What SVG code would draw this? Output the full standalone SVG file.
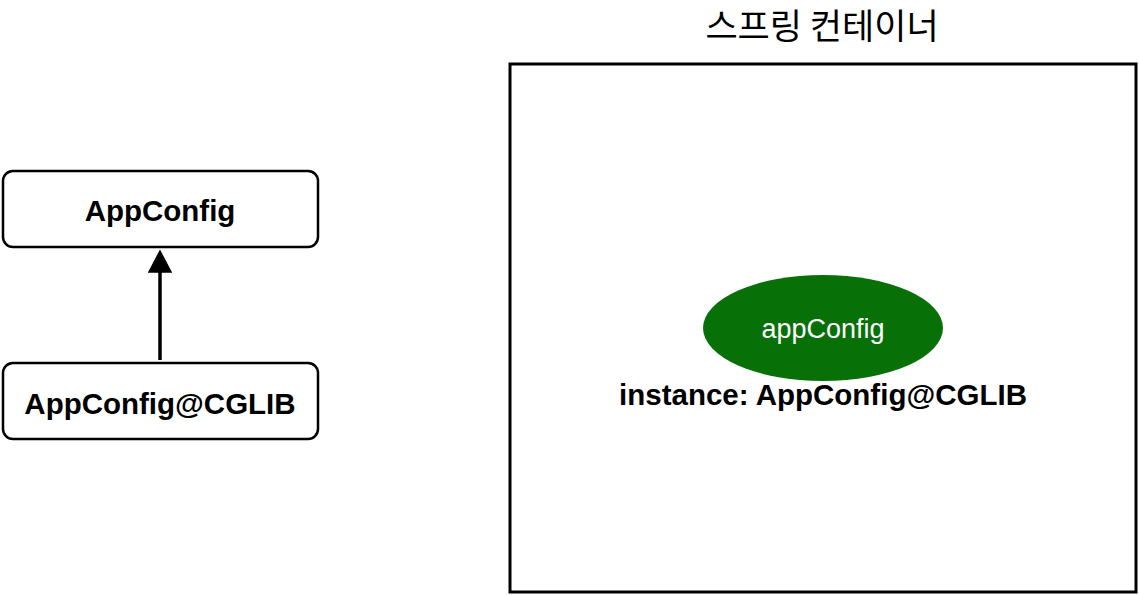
<svg xmlns="http://www.w3.org/2000/svg" width="1139" height="596" viewBox="0 0 1139 596">
<style>
.box{fill:#fff;stroke:#000;stroke-width:2.5}
.lbl{font-family:"Liberation Sans",Arial,sans-serif;font-weight:bold;font-size:29.5px;fill:#000;text-anchor:middle}
.title{font-family:"Noto Sans CJK KR","Noto Sans",sans-serif;font-size:35px;fill:#000;text-anchor:middle}
.bean{font-family:"Liberation Sans",Arial,sans-serif;font-size:27px;fill:#fff;text-anchor:middle}
</style>
<rect width="1139" height="596" fill="#fff"/>
<g id="container">
<rect x="510" y="64" width="626" height="528" fill="none" stroke="#000" stroke-width="3"/>
<text class="title" x="822" y="39">스프링 컨테이너</text>
</g>
<g id="appConfigBean">
<ellipse cx="823" cy="328" rx="120" ry="53" fill="#077007"/>
<text class="bean" x="823" y="338">appConfig</text>
<text class="lbl" x="823" y="405">instance: AppConfig@CGLIB</text>
</g>
<g id="AppConfig">
<rect class="box" x="3" y="171" width="315" height="76" rx="10"/>
<text class="lbl" x="160" y="221">AppConfig</text>
</g>
<g id="AppConfigCGLIB">
<rect class="box" x="3" y="363" width="315" height="76" rx="10"/>
<text class="lbl" x="160" y="414">AppConfig@CGLIB</text>
</g>
<g id="connectors">
<line x1="160" y1="360" x2="160" y2="272" stroke="#000" stroke-width="3.5"/>
<path d="M160,251 L171,272 L149,272 Z" fill="#000" stroke="#000" stroke-width="1.5"/>
</g>
</svg>
